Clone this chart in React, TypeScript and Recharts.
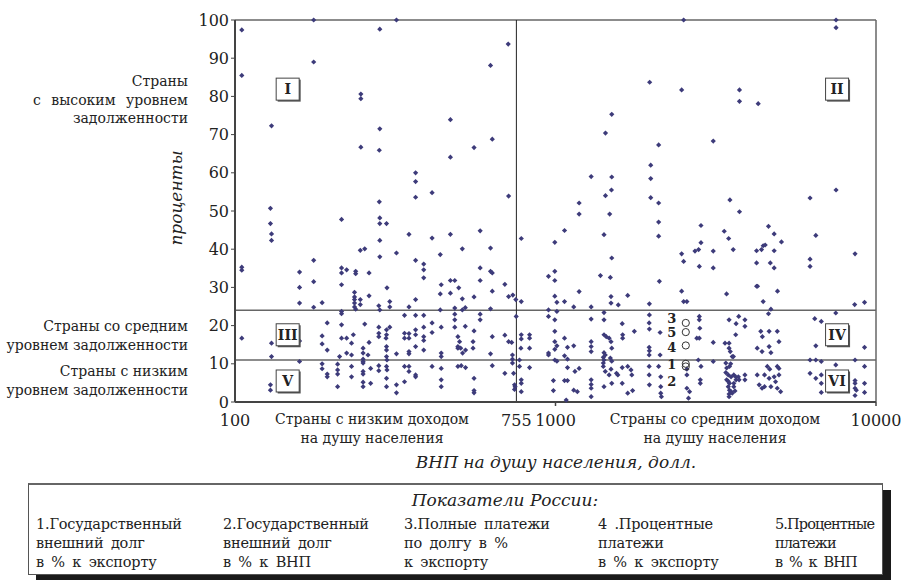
import { ScatterChart, Scatter, XAxis, YAxis, ReferenceLine, ReferenceDot } from 'recharts';

// ВНП на душу населения (долл.) и показатель задолженности (%)
const lowIncomeCountries: [number, number][] = [
  [105, 97.4], [105, 85.5], [176, 100], [176, 89], [130, 72.3], [129, 50.7], [283, 97.6], [319, 100],
  [247, 80.6], [247, 79.4], [283, 71.5], [247, 66.7], [282, 65.9], [366, 60.0], [366, 57.7], [366, 53.6],
  [412, 54.8], [282, 52.4], [283, 48.2], [470, 73.9], [470, 64.1], [215, 47.8],
  [712, 93.7], [627, 88.1], [635, 68.8], [557, 66.6], [714, 53.9],
  [129, 46.7], [130, 44.0], [130, 42.3], [105, 35.3], [105, 34.5], [105, 16.7], [130, 15.4], [130, 11.9],
  [129, 4.5], [129, 3.1], [159, 34.0], [159, 30.0], [159, 25.9], [159, 16.0], [159, 10.6],
  [176, 37.1], [176, 31.5], [176, 24.8], [187, 26.0], [187, 17.3], [187, 15.2], [187, 10.0], [187, 8.7],
  [194, 20.7], [194, 13.6], [194, 7.3], [194, 6.6], [209, 9.9], [209, 8.4], [209, 7.3], [209, 4.0],
  [215, 33.8], [215, 30.7], [215, 35.1], [215, 23.7], [215, 23.1], [215, 20.2], [215, 16.7], [212, 11.9],
  [223, 34.6], [223, 16.7], [223, 12.8], [231, 6.6], [231, 9.3], [231, 12.3], [231, 15.4], [234, 17.6],
  [238, 34.2], [238, 33.6], [236, 28.7], [236, 27.5], [236, 26.8], [236, 25.9], [236, 24.9], [238, 24.3],
  [246, 39.7], [254, 40.1], [246, 26.8], [246, 25.5],
  [251, 14.1], [251, 12.8], [251, 11.2], [251, 10.6], [251, 10.2], [251, 8.0], [251, 7.3], [251, 5.2], [251, 4.0],
  [254, 20.4], [262, 33.8], [262, 27.8], [262, 15.6], [260, 12.3], [265, 8.8], [265, 4.9],
  [283, 46.7], [283, 42.3], [283, 38.0], [281, 25.2], [283, 24.1], [281, 19.6], [281, 18.0], [281, 17.1], [281, 9.5], [281, 8.2],
  [297, 46.7], [298, 29.9], [297, 18.9], [297, 17.6], [296, 16.7], [297, 14.5], [297, 13.6], [297, 11.9], [298, 11.0],
  [297, 9.3], [298, 8.4], [297, 6.2], [297, 4.0], [304, 26.3], [304, 24.9], [304, 19.6],
  [319, 39.0], [319, 12.6], [319, 4.5], [319, 2.4], [338, 22.7], [338, 18.0], [338, 16.7], [338, 9.3], [338, 5.3],
  [349, 43.9], [349, 24.9], [349, 17.9], [349, 16.7], [349, 13.2], [349, 12.6], [349, 9.3], [349, 8.0],
  [366, 37.1], [366, 26.8], [366, 22.7], [366, 18.9], [366, 17.6], [366, 14.5], [366, 7.1], [366, 6.6],
  [388, 36.1], [388, 34.6], [388, 32.5], [388, 22.7], [388, 19.6], [388, 17.1], [388, 16.1], [388, 13.6],
  [412, 42.9], [412, 20.7], [412, 18.2], [412, 9.3],
  [437, 38.6], [440, 30.7], [437, 28.3], [437, 24.1], [440, 19.6], [440, 12.8], [440, 11.9], [440, 8.8], [440, 5.8], [440, 4.0],
  [470, 43.9], [470, 31.8], [485, 31.8], [470, 28.5], [485, 24.6], [485, 23.0], [485, 21.5], [485, 19.6],
  [496, 17.1], [496, 14.5], [496, 14.1], [496, 9.3],
  [512, 40.1], [582, 44.8], [627, 40.3], [582, 35.1], [582, 31.8], [627, 34.2], [635, 33.8], [635, 29.0],
  [499, 29.9], [512, 27.0], [557, 27.5], [627, 24.4], [695, 30.8], [714, 27.6], [736, 28.0], [752, 26.8],
  [512, 24.1], [523, 24.7], [582, 23.0], [582, 21.5], [523, 19.8], [557, 18.6], [635, 17.1], [695, 17.5],
  [714, 15.8], [730, 15.6], [754, 22.4], [502, 15.8], [506, 14.1], [513, 12.8], [524, 13.6], [508, 9.5], [524, 9.0],
  [553, 15.8], [553, 14.1], [557, 6.2], [557, 3.0], [557, 2.4], [627, 12.6], [635, 9.5], [695, 7.5],
  [734, 12.3], [734, 11.2], [734, 10.2], [740, 7.5], [745, 4.5], [748, 4.0], [745, 3.3],
];

const middleIncomeCountries: [number, number][] = [
  [782, 26.3], [782, 42.8], [782, 17.6], [830, 17.6], [830, 16.7], [830, 14.1], [830, 9.0],
  [772, 11.0], [772, 9.3], [782, 5.8], [782, 4.9], [782, 2.7], [780, 14.1], [782, 16.5],
  [2511, 100], [7505, 100], [7505, 98], [1967, 83.7], [2475, 81.7], [3750, 81.7], [3750, 78.7], [4290, 78.1],
  [1498, 75.3], [1432, 70.4], [2098, 67.3], [3106, 68.3], [1982, 62.0], [1292, 59.0], [1498, 58.9], [1982, 58.5],
  [1495, 55.5], [1432, 54.0], [1982, 53.5], [2098, 52.1], [1185, 52.1], [1185, 49.2], [1476, 49.2], [3501, 52.9],
  [3750, 49.8], [6226, 53.4], [7505, 55.5],
  [951, 32.9], [995, 34.2], [995, 31.8], [995, 41.8], [1067, 44.9], [995, 27.7], [1010, 26.1], [1067, 26.3],
  [951, 24.1], [1010, 23.7], [951, 22.4], [995, 21.5], [995, 18.5], [995, 15.8], [1010, 14.7], [995, 13.8],
  [951, 12.8], [951, 12.3], [995, 11.0], [1010, 10.7], [1067, 16.7], [1090, 14.3], [1140, 14.7], [1067, 12.1],
  [1090, 11.2], [1090, 9.0], [1150, 8.0], [985, 5.6], [1067, 5.6], [1090, 5.6], [985, 3.0], [1140, 3.1], [1170, 2.7],
  [1080, 0.5], [1140, 24.9], [1185, 28.9], [1185, 8.8],
  [1292, 24.9], [1292, 21.7], [1292, 15.8], [1292, 14.5], [1292, 13.2], [1292, 5.8], [1292, 4.6], [1292, 3.6], [1292, 1.4],
  [1381, 33.1], [1417, 43.8], [1483, 32.6], [1498, 37.7], [1417, 23.4], [1417, 21.5], [1490, 27.6], [1490, 25.9],
  [1570, 25.4], [1680, 27.9], [1417, 17.6], [1440, 17.1], [1470, 16.7], [1490, 15.8], [1417, 12.9], [1430, 12.3],
  [1410, 11.7], [1417, 11.0], [1410, 10.2], [1498, 14.1], [1483, 11.5], [1498, 10.7], [1410, 9.3], [1430, 8.0],
  [1470, 7.1], [1490, 8.6], [1550, 7.5], [1565, 7.1], [1498, 4.9], [1417, 4.0], [1615, 9.0], [1680, 9.3],
  [1720, 8.4], [1730, 7.1], [1615, 4.9], [1615, 20.5], [1620, 17.6], [1620, 16.7], [1680, 2.3], [1740, 3.0], [1762, 18.5],
  [1963, 25.7], [1963, 22.8], [1960, 20.7], [1963, 19.1], [2109, 31.6], [2098, 47.1], [2098, 43.4], [1960, 14.3],
  [1963, 13.4], [2120, 18.2], [1960, 12.3], [2120, 12.3], [1960, 9.3], [2098, 9.3], [1960, 7.1], [2130, 6.6],
  [1963, 4.5], [2130, 4.0], [2130, 2.3], [2140, 1.4],
  [2475, 38.8], [2511, 36.8], [2475, 29.0], [2511, 26.3], [2570, 26.3], [2724, 39.5], [2796, 39.9], [2844, 41.7],
  [2844, 46.2], [2810, 35.5], [3106, 39.5], [3106, 35.1], [3361, 44.7], [3470, 42.8], [3585, 39.9], [3418, 28.3],
  [2810, 22.4], [2810, 21.5], [2820, 19.3], [2760, 16.7], [2810, 16.7], [2790, 11.0], [2844, 9.3], [2830, 5.8],
  [2830, 4.9], [2570, 8.6], [2570, 7.1], [2570, 3.6], [2620, 2.7], [2600, 1.0], [3106, 15.6], [3106, 10.6],
  [3380, 15.4], [3480, 15.4], [3480, 14.1], [3510, 13.2], [3560, 11.9], [3590, 11.9], [3480, 21.5], [3650, 17.6],
  [3660, 20.5], [3730, 22.4], [3900, 21.5], [3900, 19.8],
  [3520, 10.0], [3400, 10.2], [3420, 8.9], [3490, 9.3], [3400, 7.7], [3460, 7.1], [3530, 6.6], [3420, 5.8],
  [3460, 5.4], [3490, 4.9], [3460, 4.0], [3490, 3.1], [3530, 2.7], [3480, 2.1], [3560, 2.3], [3480, 1.4],
  [3600, 7.1], [3650, 6.6], [3660, 5.8], [3600, 4.0], [3720, 6.6], [3740, 5.8], [3600, 4.9], [3630, 2.9],
  [3900, 7.1], [3900, 5.8],
  [4240, 36.4], [4240, 39.6], [4393, 39.9], [4446, 40.9], [4511, 41.1], [4811, 39.6], [4240, 30.3], [4270, 30.3],
  [4619, 46.0], [4811, 44.0], [5070, 41.9], [4680, 36.4], [4811, 35.1], [4928, 29.0], [4446, 26.3], [4700, 24.3],
  [4619, 23.1], [4370, 18.5], [4420, 17.1], [4640, 18.5], [4920, 18.5], [4980, 15.8], [4260, 14.1], [4410, 13.2],
  [4640, 14.5], [4700, 12.9], [4580, 9.3], [4660, 8.6], [4920, 9.3], [4980, 8.8], [4260, 7.1], [4490, 7.1],
  [4640, 6.2], [4811, 6.6], [4980, 7.1], [4320, 4.5], [4490, 4.0], [4700, 4.0], [4920, 3.6], [5040, 2.7],
  [4860, 5.3], [4410, 3.6],
  [6226, 37.4], [6226, 35.5], [6490, 43.6], [8602, 38.8], [8580, 25.5], [9210, 26.1], [7490, 23.3], [6440, 21.8],
  [6750, 21.1], [6490, 14.7], [6226, 11.0], [6490, 11.0], [6750, 10.6], [7490, 9.7], [6226, 7.5], [6490, 6.2],
  [6750, 7.1], [6750, 4.9], [6750, 2.5], [8602, 11.0], [8602, 5.6], [8602, 4.9], [8602, 3.6], [8680, 3.1],
  [8602, 1.7], [9210, 14.3], [9210, 9.3], [9210, 4.9], [9210, 2.5],
];

// Показатели России
const russiaIds = [1, 2, 3, 4, 5];
const russiaGnp = [2550, 2550, 2550, 2550, 2550];
const russiaPct = [10.0, 9.3, 20.7, 14.8, 18.3];

const gnpTicks = [100, 755, 1000, 10000];
const pctTicks = [0, 10, 20, 30, 40, 50, 60, 70, 80, 90, 100];

const lowIncomeThreshold = 755;
const debtLevels = [24, 11];

const zoneLabels = [
  { id: 'I', gnp: 146, pct: 81.9 },
  { id: 'II', gnp: 7560, pct: 81.9 },
  { id: 'III', gnp: 146, pct: 17.6 },
  { id: 'IV', gnp: 7560, pct: 17.6 },
  { id: 'V', gnp: 146, pct: 5.5 },
  { id: 'VI', gnp: 7560, pct: 5.5 },
];

const legendItems = [
  ['1.Государственный', 'внешний долг', 'в % к экспорту'],
  ['2.Государственный', 'внешний долг', 'в % к ВНП'],
  ['3.Полные платежи', 'по долгу в %', 'к экспорту'],
  ['4 .Процентные', 'платежи', 'в % к экспорту'],
  ['5.Процентные', 'платежи', 'в % к ВНП'],
];

const SERIF = "'DejaVu Serif', serif";
const INK = '#222';
const DOT = '#3d3b7a';

const toPoints = (rows: [number, number][]) => rows.map(([gnp, pct]) => ({ gnp, pct }));
const russiaData = russiaIds.map((id, i) => ({ id, gnp: russiaGnp[i], pct: russiaPct[i] }));

// сдвиг цифр-подписей относительно кружков (по вертикали)
const russiaLabelShift: Record<number, number> = { 1: 1, 2: 15, 3: -5, 4: 2, 5: 0.5 };

function Diamond(props: any) {
  const { cx, cy } = props;
  const r = 2.6;
  return <path d={`M${cx},${cy - r}L${cx + r},${cy}L${cx},${cy + r}L${cx - r},${cy}Z`} fill={DOT} />;
}

function RussiaMark(props: any) {
  const { cx, cy, payload } = props;
  const labelY = cy + (russiaLabelShift[payload.id] || 0);
  return (
    <g>
      <circle cx={cx} cy={cy} r={3.6} fill="none" stroke="#333" strokeWidth={1} />
      <text
        x={cx - 14}
        y={labelY}
        dy="0.36em"
        textAnchor="middle"
        fontFamily={SERIF}
        fontSize={13}
        fontWeight="bold"
        fill={INK}
      >
        {payload.id}
      </text>
    </g>
  );
}

function ZoneBox(props: any) {
  const { cx, cy, label } = props;
  const w = 23;
  const h = 22;
  return (
    <g>
      <rect x={cx - w / 2 + 1.5} y={cy - h / 2 + 1.5} width={w} height={h} fill="#555" />
      <rect x={cx - w / 2} y={cy - h / 2} width={w} height={h} fill="#fff" stroke="#444" strokeWidth={1} />
      <text x={cx} y={cy} dy="0.36em" textAnchor="middle" fontFamily={SERIF} fontSize={14} fontWeight="bold" fill={INK}>
        {label}
      </text>
    </g>
  );
}

function GnpTick(props: any) {
  const { x, y, payload } = props;
  const v = payload.value;
  const mark = v === 1000 || v === 10000;
  return (
    <g>
      {mark && <line x1={x} x2={x} y1={y} y2={y + 4} stroke="#444" strokeWidth={1.5} />}
      <text x={x} y={y + 24} textAnchor="middle" fontFamily={SERIF} fontSize={16} fill={INK}>
        {v}
      </text>
    </g>
  );
}

const textStyle: React.CSSProperties = {
  position: 'absolute',
  fontFamily: SERIF,
  color: INK,
  whiteSpace: 'nowrap',
};

export default function App() {
  return (
    <div style={{ position: 'absolute', left: 0, top: 0, width: 901, height: 580, background: '#fff', overflow: 'hidden' }}>
      <ScatterChart width={901} height={580} margin={{ top: 20, right: 25, bottom: 148, left: 195 }}>
        <XAxis
          dataKey="gnp"
          type="number"
          scale="log"
          domain={[100, 10000]}
          allowDataOverflow
          ticks={gnpTicks}
          height={30}
          tickSize={0}
          tickMargin={0}
          tickLine={false}
          axisLine={{ stroke: '#444', strokeWidth: 2 }}
          tick={<GnpTick />}
        />
        <YAxis
          dataKey="pct"
          type="number"
          domain={[0, 100]}
          ticks={pctTicks}
          width={40}
          tickSize={4}
          tickMargin={2}
          axisLine={{ stroke: '#444', strokeWidth: 2 }}
          tickLine={{ stroke: '#444' }}
          tick={{ fontFamily: SERIF, fontSize: 16, fill: INK }}
        />
        <ReferenceLine y={100} stroke="#666" strokeWidth={1.5} />
        <ReferenceLine x={10000} stroke="#666" strokeWidth={1.5} />
        {debtLevels.map((v) => (
          <ReferenceLine key={v} y={v} stroke="#666" strokeWidth={1.5} />
        ))}
        <ReferenceLine x={lowIncomeThreshold} stroke="#222" strokeWidth={1} />
        <Scatter data={toPoints(lowIncomeCountries)} shape={<Diamond />} isAnimationActive={false} />
        <Scatter data={toPoints(middleIncomeCountries)} shape={<Diamond />} isAnimationActive={false} />
        <Scatter data={russiaData} shape={<RussiaMark />} isAnimationActive={false} />
        {zoneLabels.map((z) => (
          <ReferenceDot key={z.id} x={z.gnp} y={z.pct} shape={(p: any) => <ZoneBox {...p} label={z.id} />} />
        ))}
      </ScatterChart>

      {/* подписи слева */}
      <div style={{ ...textStyle, left: 0, width: 188, top: 72, fontSize: 14, lineHeight: '18.5px', textAlign: 'right' }}>
        Страны<br />
        <span style={{ wordSpacing: 6 }}>с высоким уровнем</span>
        <br />задолженности
      </div>
      <div style={{ ...textStyle, left: 0, width: 188, top: 317, fontSize: 14, lineHeight: '18.5px', textAlign: 'right' }}>
        Страны со средним<br />уровнем задолженности
      </div>
      <div style={{ ...textStyle, left: 0, width: 188, top: 362, fontSize: 14, lineHeight: '19px', textAlign: 'right' }}>
        Страны с низким<br />уровнем задолженности
      </div>

      {/* подписи под осью */}
      <div style={{ ...textStyle, left: 372, top: 410, transform: 'translateX(-50%)', fontSize: 14, lineHeight: '18.5px', textAlign: 'center' }}>
        Страны с низким доходом<br />на душу населения
      </div>
      <div style={{ ...textStyle, left: 715, top: 410, transform: 'translateX(-50%)', fontSize: 14, lineHeight: '18.5px', textAlign: 'center' }}>
        Страны со средним доходом<br />на душу населения
      </div>

      <div style={{ ...textStyle, left: 556, top: 462, transform: 'translate(-50%, -50%)', fontSize: 17, fontStyle: 'italic' }}>
        ВНП на душу населения, долл.
      </div>
      <div style={{ ...textStyle, left: 176, top: 198, transform: 'translate(-50%, -50%) rotate(-90deg)', fontSize: 17, fontStyle: 'italic' }}>
        проценты
      </div>

      {/* легенда */}
      <div
        style={{
          position: 'absolute',
          left: 28,
          top: 483,
          width: 855,
          height: 92,
          boxSizing: 'border-box',
          border: '1px solid #555',
          borderTop: '2px solid #666',
          boxShadow: '8px 7px 0 #1a1a1a',
          background: '#fff',
        }}
      />
      <div style={{ ...textStyle, left: 505, top: 500, transform: 'translate(-50%, -50%)', fontSize: 17, fontStyle: 'italic' }}>
        Показатели России:
      </div>
      {legendItems.map((lines, i) => (
        <div
          key={i}
          style={{
            ...textStyle,
            left: [36, 223, 404, 598, 775][i],
            top: 515,
            fontSize: 14.5,
            letterSpacing: i === 4 ? -0.9 : -0.2,
            wordSpacing: 3,
            lineHeight: '19px',
          }}
        >
          {lines.map((l, j) => (
            <div key={j}>{l}</div>
          ))}
        </div>
      ))}
    </div>
  );
}
